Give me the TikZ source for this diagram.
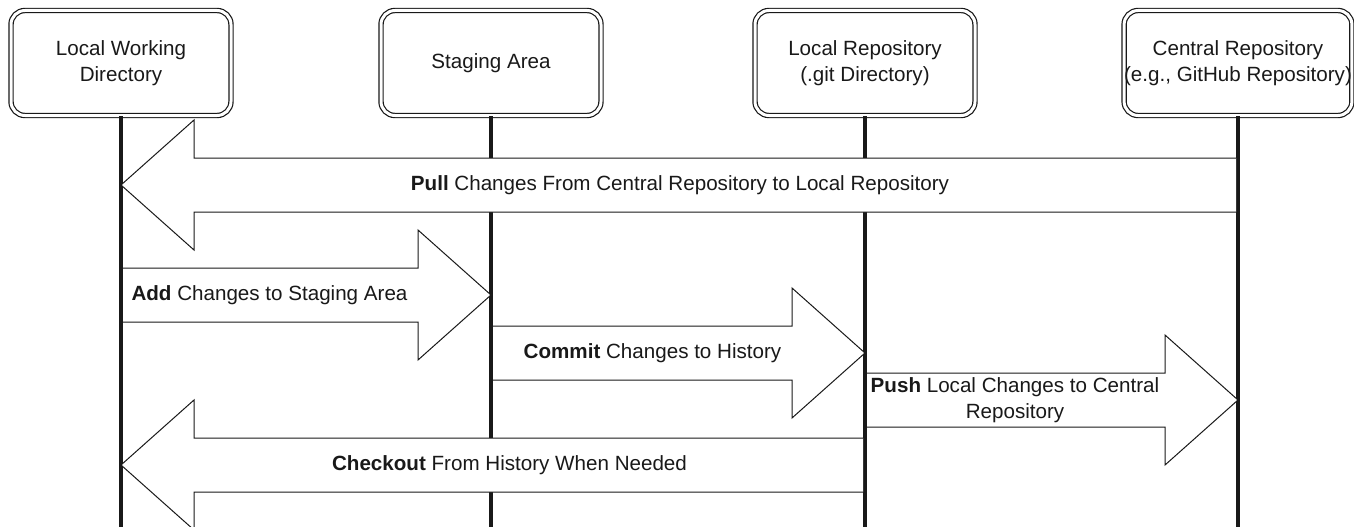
\documentclass[tikz,border=0pt]{standalone}
\usepackage{fontspec}
\setmainfont{Liberation Sans}
\usetikzlibrary{calc}

% block arrow between two lifelines: [label shift]{from}{to}{level}{label}
\newcommand{\flowarrow}[5][0]{%
  \coordinate (fa-tail) at (#2 |- 0,#4);
  \coordinate (fa-tip) at (#3 |- 0,#4);
  \coordinate (fa-start) at ($(fa-tail)!2pt!(fa-tip)$);
  \coordinate (fa-base) at ($(fa-tip)!73pt!(fa-tail)$);
  \draw[flow] ($(fa-start)+(0,-27)$) -- ($(fa-base)+(0,-27)$) -- ($(fa-base)+(0,-65)$) -- (fa-tip)
    -- ($(fa-base)+(0,65)$) -- ($(fa-base)+(0,27)$) -- ($(fa-start)+(0,27)$);
  \node[flowlabel] at ($(fa-tail)!0.5!(fa-base)+(#1,0)$) {#5};
}

\begin{document}
\begin{tikzpicture}[
      x=1pt, y=-1pt,
      font=\fontsize{20.6}{26}\selectfont,
      box/.style={draw=black!90, line width=1.2pt, double, double distance=3pt, rounded corners=14pt,
        minimum width=220pt, minimum height=105pt, align=center, inner sep=0pt, text=black!90},
      lifeline/.style={draw=black!90, line width=3.5pt},
      flow/.style={draw=black!90, fill=white, line width=1pt, line join=miter},
      flowlabel/.style={align=center, inner sep=0pt, text=black!90}
    ]
      \useasboundingbox (0,0) rectangle (1354,527);
      \coordinate (bottom) at (0,527);

      % Participants
      \node[box] (lwd) at (121,63) {Local Working\\Directory};
      \node[box] (stage) at (491,63) {Staging Area};
      \node[box] (lrepo) at (865,63) {Local Repository\\(.git Directory)};
      \node[box] (crepo) at (1238,63) {Central Repository\\(e.g., GitHub Repository)};

      % Lifelines
      \foreach \n in {lwd, stage, lrepo, crepo}
        \draw[lifeline] (\n.south) -- (\n |- bottom);

      % Steps
      \flowarrow[-36]{crepo}{lwd}{185}{\textbf{Pull} Changes From Central Repository to Local Repository}
      \flowarrow{lwd}{stage}{295}{\textbf{Add} Changes to Staging Area}
      \flowarrow[11]{stage}{lrepo}{353}{\textbf{Commit} Changes to History}
      \flowarrow{lrepo}{crepo}{400}{\textbf{Push} Local Changes to Central\\Repository}
      \flowarrow[-20]{lrepo}{lwd}{465}{\textbf{Checkout} From History When Needed}

    \end{tikzpicture}
\end{document}
